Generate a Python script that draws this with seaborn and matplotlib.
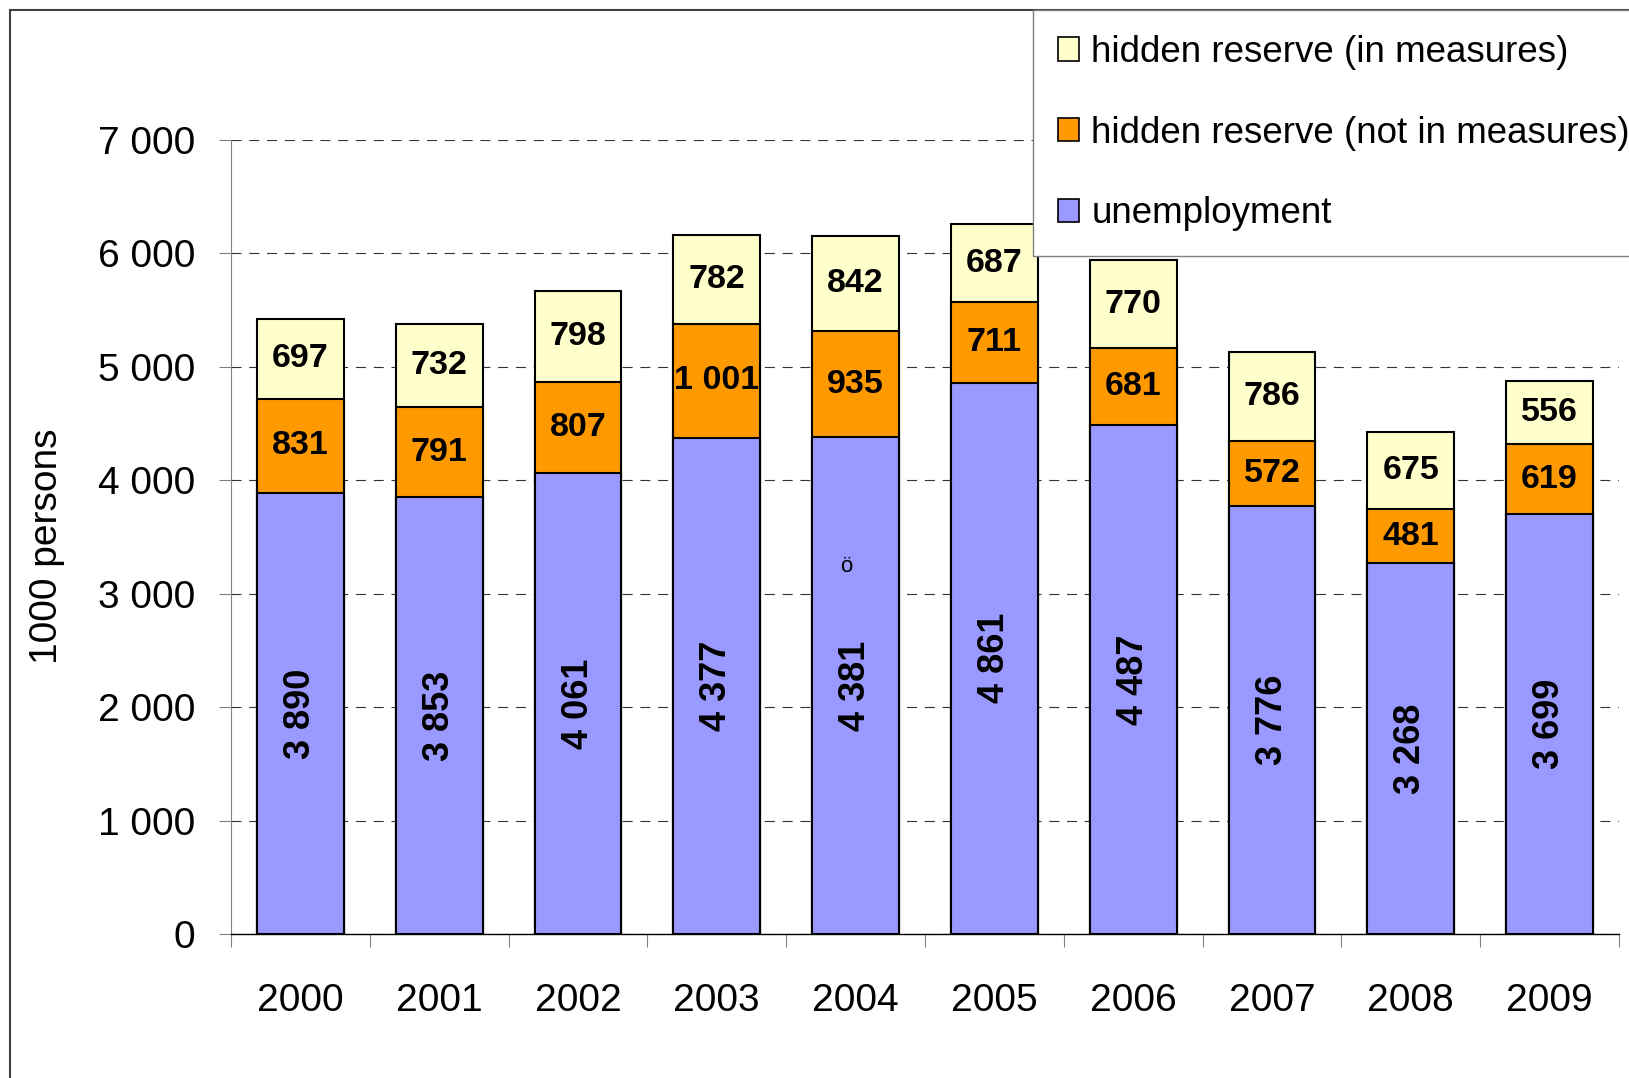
import numpy as np
import pandas as pd
import matplotlib
matplotlib.use("Agg")
import matplotlib.pyplot as plt
from matplotlib import font_manager
from matplotlib.patches import Patch, Rectangle
import seaborn as sns

# --- data (thousand persons) ---
years = ["2000", "2001", "2002", "2003", "2004", "2005", "2006", "2007", "2008", "2009"]
unemployment = [3890, 3853, 4061, 4377, 4381, 4861, 4487, 3776, 3268, 3699]
hidden_not_in_measures = [831, 791, 807, 1001, 935, 711, 681, 572, 481, 619]
hidden_in_measures = [697, 732, 798, 782, 842, 687, 770, 786, 675, 556]
y_ticks = [0, 1000, 2000, 3000, 4000, 5000, 6000, 7000]
series_labels = ["hidden reserve (in measures)",
                 "hidden reserve (not in measures)",
                 "unemployment"]

C_UNEMP = "#9999FF"
C_NOT = "#FF9900"
C_IN = "#FFFFCC"


def fmt(v):
    return f"{v:,}".replace(",", " ")


sns.set_style("white")
plt.rcParams["font.family"] = ["Liberation Sans", "DejaVu Sans"]
plt.rcParams["text.color"] = "black"
plt.rcParams["xtick.labelcolor"] = "black"
plt.rcParams["ytick.labelcolor"] = "black"

W, H = 1629, 1078
fig = plt.figure(figsize=(W / 100, H / 100), dpi=100)
ax = fig.add_axes([231 / W, 1 - 934 / H, 1388 / W, 794 / H])

df = pd.DataFrame({
    "year": years,
    "unemp": unemployment,
    "mid": np.add(unemployment, hidden_not_in_measures),
    "top": np.add(np.add(unemployment, hidden_not_in_measures), hidden_in_measures),
})

# stacked look: cumulative totals drawn tallest first
for col, color in [("top", C_IN), ("mid", C_NOT), ("unemp", C_UNEMP)]:
    sns.barplot(data=df, x="year", y=col, color=color, saturation=1,
                width=0.625, edgecolor="black", linewidth=1.5, ax=ax, zorder=2)

ax.set_xlim(-0.5, 9.5)
ax.set_ylim(0, 7000)
ax.set_xlabel("")
ax.set_ylabel("")

# dashed horizontal grid behind the bars
ax.set_axisbelow(True)
ax.yaxis.grid(True, color="#333333", linewidth=0.8, linestyle=(0, (9, 7)), zorder=0)
ax.xaxis.grid(False)

ax.set_yticks(y_ticks)
ax.set_yticklabels([fmt(v) for v in y_ticks])
ax.tick_params(axis="y", left=True, direction="out", length=8.6, width=0.8,
               color="#808080", pad=17, labelsize=28, labelcolor="black")

ax.set_xticks(range(len(years)))
ax.set_xticklabels(years)
ax.set_xticks(np.arange(-0.5, len(years), 1.0), minor=True)
ax.tick_params(axis="x", which="major", bottom=True, length=0, pad=35.5,
               labelsize=28, labelcolor="black")
ax.tick_params(axis="x", which="minor", bottom=True, direction="out", length=9.4,
               width=0.8, color="#808080")

for s in ["top", "right"]:
    ax.spines[s].set_visible(False)
ax.spines["left"].set_color("#808080")
ax.spines["left"].set_linewidth(0.8)
ax.spines["bottom"].set_color("black")
ax.spines["bottom"].set_linewidth(1.0)

# value labels
for i in range(len(years)):
    u = unemployment[i]
    n = hidden_not_in_measures[i]
    m = hidden_in_measures[i]
    ax.text(i, u / 2, fmt(u), rotation=90, ha="center", va="center",
            fontsize=26, fontweight="bold", color="black", zorder=5)
    ax.text(i, u + n / 2, fmt(n), ha="center", va="center",
            fontsize=24.5, fontweight="bold", color="black", zorder=5)
    ax.text(i, u + n + m / 2, fmt(m), ha="center", va="center",
            fontsize=24.5, fontweight="bold", color="black", zorder=5)

ax.text(3.93, 3240, "ö", ha="center", va="center", fontsize=16,
        color="black", zorder=5)

# y axis title
fig.text(47 / W, 1 - 546 / H, "1000 persons", rotation=90, ha="center",
         va="center", fontsize=28, color="black")

# legend
handles = [Patch(facecolor=C_IN, edgecolor="black", linewidth=1.2),
           Patch(facecolor=C_NOT, edgecolor="black", linewidth=1.2),
           Patch(facecolor=C_UNEMP, edgecolor="black", linewidth=1.2)]
leg = fig.legend(handles, series_labels, loc="upper left",
                 bbox_to_anchor=(1033 / W, 1 - 10 / H), borderaxespad=0,
                 frameon=True, fancybox=False, framealpha=1,
                 edgecolor="#808080", borderpad=0.68, labelspacing=1.24,
                 handlelength=0.57, handleheight=0.6, handletextpad=0.33,
                 prop=font_manager.FontProperties(
                     family=["Liberation Sans", "DejaVu Sans"], size=26.5))
leg.get_frame().set_linewidth(1.0)

# outer chart frame (left and top edges visible)
fig.add_artist(Rectangle((10 / W, -0.1), 1.2, 1.1 - 10 / H,
                         transform=fig.transFigure, fill=False,
                         edgecolor="#404040", linewidth=1.5, zorder=0))

fig.savefig("out.png", dpi=100)
